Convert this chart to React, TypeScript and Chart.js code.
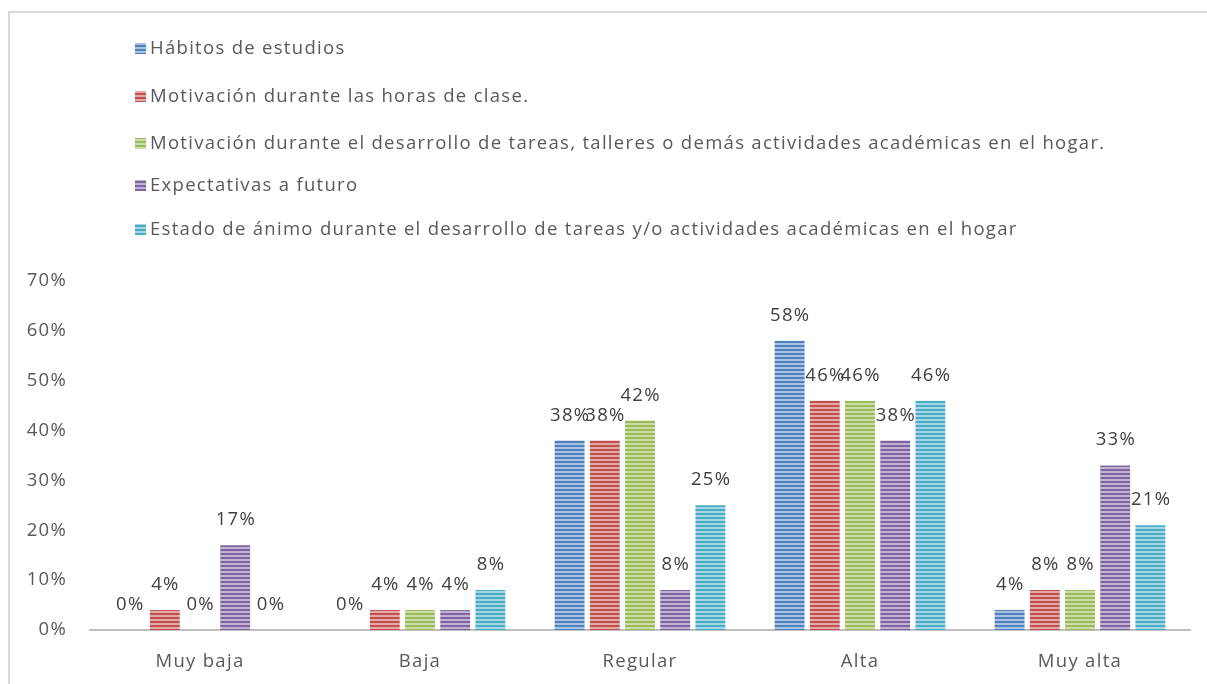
import React, { useEffect, useRef } from "react";
import { Chart, registerables } from "chart.js";

Chart.register(...registerables);

const categories = ["Muy baja", "Baja", "Regular", "Alta", "Muy alta"];
const seriesNames = [
  "Hábitos de estudios",
  "Motivación durante las horas de clase.",
  "Motivación durante el desarrollo de tareas, talleres o demás actividades académicas en el hogar.",
  "Expectativas a futuro",
  "Estado de ánimo durante el desarrollo de tareas y/o actividades académicas en el hogar",
];
const habitos = [0, 0, 38, 58, 4];
const motivacionClase = [4, 4, 38, 46, 8];
const motivacionTareas = [0, 4, 42, 46, 8];
const expectativas = [17, 4, 8, 38, 33];
const estadoAnimo = [0, 8, 25, 46, 21];
const yTicks = [0, 10, 20, 30, 40, 50, 60, 70];

const darkColors = ["#4F81BD", "#C0504D", "#9BBB59", "#8064A2", "#4BACC6"];
const lightColors = ["#A9C1E3", "#E3A9A7", "#CDDDAC", "#BFB1D1", "#A5D6E3"];

const FONT = "'Open Sans', Lato, sans-serif";
const SPACING = "1.3px";
const SIZE = 18.5;

function makePattern(dark: string, light: string): CanvasPattern | string {
  const c = document.createElement("canvas");
  c.width = 4;
  c.height = 4;
  const g = c.getContext("2d");
  if (!g) return dark;
  g.fillStyle = light;
  g.fillRect(0, 0, 4, 4);
  g.fillStyle = dark;
  g.fillRect(0, 0, 4, 2);
  const p = g.createPattern(c, "repeat");
  return p || dark;
}

export default function App() {
  const ref = useRef<HTMLCanvasElement | null>(null);

  useEffect(() => {
    if (!ref.current) return;
    const patterns = darkColors.map((d, i) => makePattern(d, lightColors[i]));
    const allData = [habitos, motivacionClase, motivacionTareas, expectativas, estadoAnimo];

    const spacingPlugin = {
      id: "spacing",
      beforeInit(chart: any) {
        chart.ctx.letterSpacing = SPACING;
      },
      beforeLayout(chart: any) {
        chart.ctx.letterSpacing = SPACING;
      },
      beforeDraw(chart: any) {
        chart.ctx.letterSpacing = SPACING;
      },
    };

    const legendPlugin = {
      id: "customLegend",
      afterDraw(chart: any) {
        const ctx = chart.ctx;
        const ys = [35, 83, 130, 172, 216];
        ctx.save();
        ctx.letterSpacing = SPACING;
        ctx.font = `${SIZE}px ${FONT}`;
        ctx.textBaseline = "middle";
        ctx.textAlign = "left";
        seriesNames.forEach((name, i) => {
          ctx.fillStyle = patterns[i] as any;
          ctx.fillRect(125, ys[i] - 5, 11, 11);
          ctx.fillStyle = "#595959";
          ctx.fillText(name, 140, ys[i] + 1);
        });
        ctx.restore();
      },
    };

    const labelPlugin = {
      id: "dataLabels",
      afterDatasetsDraw(chart: any) {
        const ctx = chart.ctx;
        ctx.save();
        ctx.letterSpacing = SPACING;
        ctx.font = `${SIZE}px ${FONT}`;
        ctx.fillStyle = "#404040";
        ctx.textAlign = "center";
        ctx.textBaseline = "bottom";
        chart.data.datasets.forEach((ds: any, di: number) => {
          const meta = chart.getDatasetMeta(di);
          meta.data.forEach((el: any, i: number) => {
            ctx.fillText(`${ds.data[i]}%`, el.x + 0.65, el.y - 16);
          });
        });
        ctx.restore();
      },
    };

    const chart = new Chart(ref.current, {
      type: "bar",
      data: {
        labels: categories,
        datasets: allData.map((d, i) => ({
          label: seriesNames[i],
          data: d,
          backgroundColor: patterns[i] as any,
          borderWidth: 0,
          categoryPercentage: 0.8,
          barPercentage: 0.85,
        })),
      },
      options: {
        animation: false,
        responsive: false,
        maintainAspectRatio: false,
        layout: { padding: { top: 268, right: 17, left: 0, bottom: 0 } },
        plugins: {
          legend: { display: false },
          tooltip: { enabled: false },
        },
        scales: {
          x: {
            afterFit(scale: any) {
              scale.height = 54;
            },
            grid: { display: false, drawTicks: false },
            border: { display: true, color: "#BFBFBF", width: 2 },
            ticks: { color: "#595959", font: { size: SIZE, family: FONT }, padding: 21 },
          },
          y: {
            min: 0,
            max: 70,
            afterFit(scale: any) {
              scale.width = 80;
            },
            afterBuildTicks(scale: any) {
              scale.ticks = yTicks.map((v) => ({ value: v }));
            },
            grid: { display: false, drawTicks: false },
            border: { display: false },
            ticks: {
              color: "#595959",
              font: { size: SIZE, family: FONT },
              padding: 23,
              callback: (v: any) => `${v}%`,
            },
          },
        },
      },
      plugins: [spacingPlugin, legendPlugin, labelPlugin],
    });
    return () => chart.destroy();
  }, []);

  return (
    <div
      style={{
        position: "fixed",
        left: 8,
        top: 11,
        width: 1199,
        height: 673,
        borderTop: "2px solid #D9D9D9",
        borderLeft: "2px solid #D9D9D9",
        background: "#fff",
        overflow: "hidden",
      }}
    >
      <canvas ref={ref} width={1197} height={671} style={{ display: "block" }} />
    </div>
  );
}
